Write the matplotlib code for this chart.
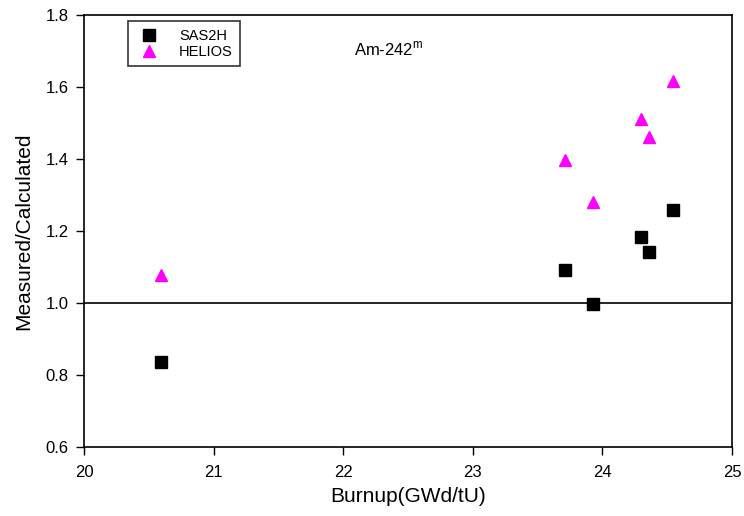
import matplotlib
matplotlib.use('Agg')
import matplotlib.pyplot as plt

plt.rcParams['font.family'] = ['Liberation Sans', 'DejaVu Sans']

# burnup (GWd/tU) and measured/calculated ratios
sas2h_x = [20.59, 23.71, 23.93, 24.30, 24.36, 24.545]
sas2h_y = [0.836, 1.091, 0.997, 1.182, 1.141, 1.257]
helios_x = [20.59, 23.71, 23.93, 24.30, 24.36, 24.545]
helios_y = [1.078, 1.398, 1.279, 1.511, 1.460, 1.617]

fig = plt.figure(figsize=(7.44, 5.16), dpi=100)
ax = fig.add_axes([0.113, 0.134, 0.871, 0.837])

ax.plot(sas2h_x, sas2h_y, 's', color='black', markersize=8, label='SAS2H', zorder=3)
ax.plot(helios_x, helios_y, '^', color='#ff00ff', markersize=8, label='HELIOS', zorder=3)
ax.axhline(1.0, color='black', linewidth=1.2, zorder=2)

ax.set_xlim(20, 25)
ax.set_ylim(0.6, 1.8)
ax.set_xticks([20, 21, 22, 23, 24, 25])
ax.set_yticks([0.6, 0.8, 1.0, 1.2, 1.4, 1.6, 1.8])
ax.set_yticklabels(['0.6', '0.8', '1.0', '1.2', '1.4', '1.6', '1.8'])
ax.tick_params(axis='x', direction='out', length=6, width=1, labelsize=12, pad=7)
ax.tick_params(axis='y', direction='out', length=6, width=1, labelsize=12, pad=5)
for s in ax.spines.values():
    s.set_linewidth(1.2)

ax.set_xlabel('Burnup(GWd/tU)', fontsize=15, labelpad=5)
ax.set_ylabel('Measured/Calculated', fontsize=15, labelpad=9)

ax.text(0.417, 0.907, r'Am-242$^{\mathregular{m}}$', transform=ax.transAxes, fontsize=12)

leg = ax.legend(loc='upper left', bbox_to_anchor=(0.068, 0.985), fontsize=10.5,
                frameon=True, fancybox=False, edgecolor='black', handletextpad=1.2,
                borderpad=0.5, labelspacing=0.15, handlelength=1.8, borderaxespad=0)
leg.get_frame().set_linewidth(1.2)

fig.savefig('out.png', dpi=100)
